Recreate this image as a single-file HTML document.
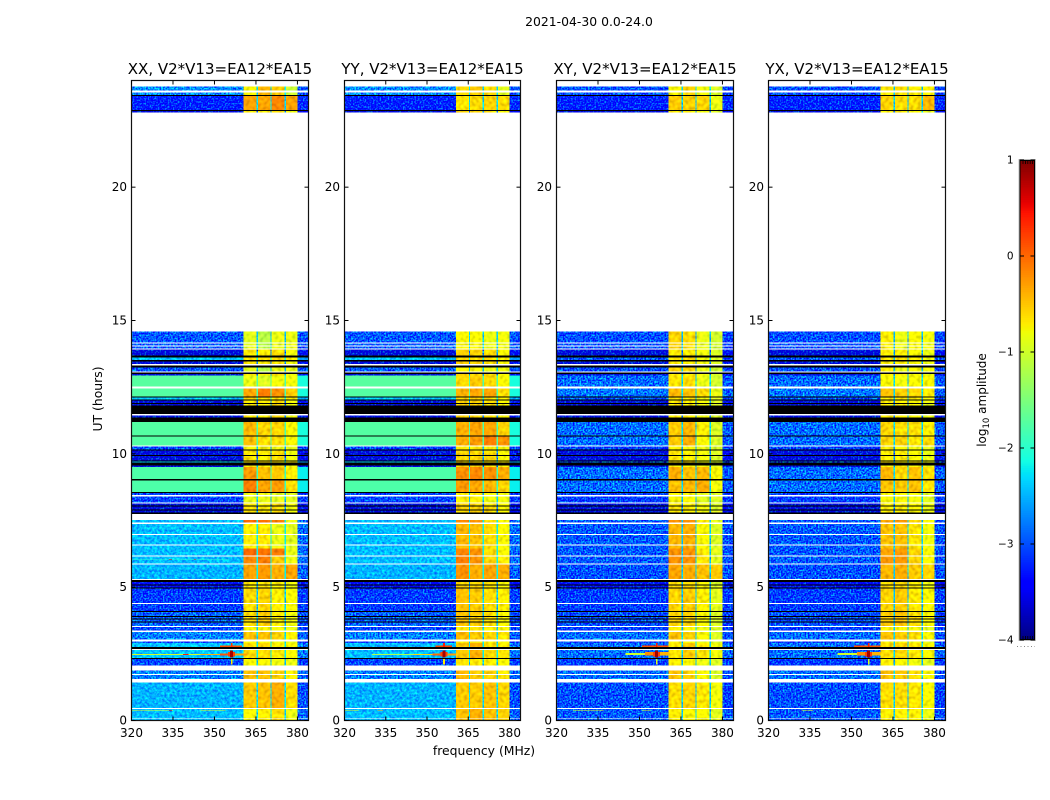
<!DOCTYPE html>
<html lang="en">
<head>
<meta charset="utf-8">
<title>2021-04-30 0.0-24.0</title>
<style>
html,body{margin:0;padding:0;background:#fff;}
svg{display:block;}
text{font-family:"DejaVu Sans","Liberation Sans",sans-serif;fill:#000;}
</style>
</head>
<body>
<svg id="chart" xmlns="http://www.w3.org/2000/svg" width="1050" height="800" viewBox="0 0 1050 800">
<defs>
<filter id="low-noise" filterUnits="userSpaceOnUse" x="0" y="0" width="1050" height="800" color-interpolation-filters="sRGB">
<feTurbulence type="fractalNoise" baseFrequency="0.6" numOctaves="1" seed="4" result="n"/>
<feColorMatrix in="n" type="matrix" values="0 0 0 0 .5 2.2 0 0 0 -.6 0 0 0 0 .5 0 0 0 0 1" result="g"/>
<feComposite in="g" in2="SourceAlpha" operator="in" result="m"/>
<feComposite in="SourceGraphic" in2="m" operator="arithmetic" k1="0" k2="1" k3="1" k4="-.5"/>
</filter>
<filter id="soft-noise" filterUnits="userSpaceOnUse" x="0" y="0" width="1050" height="800" color-interpolation-filters="sRGB">
<feTurbulence type="fractalNoise" baseFrequency="0.4" numOctaves="2" seed="7" result="n"/>
<feColorMatrix in="n" type="matrix" values="0 0 0 0 .5 1 0 0 0 0 0 0 0 0 .5 0 0 0 0 1" result="g"/>
<feComposite in="g" in2="SourceAlpha" operator="in" result="m"/>
<feComposite in="SourceGraphic" in2="m" operator="arithmetic" k1="0" k2="1" k3="1" k4="-.5"/>
</filter>
<filter id="band-noise" filterUnits="userSpaceOnUse" x="0" y="0" width="1050" height="800" color-interpolation-filters="sRGB">
<feTurbulence type="fractalNoise" baseFrequency="0.28" numOctaves="1" seed="9" result="n"/>
<feColorMatrix in="n" type="matrix" values="1 0 0 0 0 1 0 0 0 0 1 0 0 0 0 0 0 0 0 1" result="g"/>
<feComposite in="SourceGraphic" in2="g" operator="arithmetic" k1="0.6" k2="0.72" k3="0" k4="0"/>
</filter>
</defs>
<text x="589" y="26" text-anchor="middle" font-size="12.4">2021-04-30 0.0-24.0</text>
<text x="484" y="755" text-anchor="middle" font-size="12.4">frequency (MHz)</text>
<text transform="translate(102,399) rotate(-90)" text-anchor="middle" font-size="12.4">UT (hours)</text>
<text transform="translate(986,400) rotate(-90)" text-anchor="middle" font-size="12">log<tspan font-size="8.5" dy="3">10</tspan><tspan dy="-3"> amplitude</tspan></text>
</svg>
<script>
/* Data: every row is a UT interval, every column a frequency interval */
const panelTitles = ['XX, V2*V13=EA12*EA15', 'YY, V2*V13=EA12*EA15', 'XY, V2*V13=EA12*EA15', 'YX, V2*V13=EA12*EA15'];
const xTicks = [320, 335, 350, 365, 380];
const yTicks = [0, 5, 10, 15, 20];
const colorbarTicks = [1, 0, -1, -2, -3, -4];

/* Start hour of each row, and the final edge */
const rowStartHour = [0,.08,.10,.44,.46,1.43,1.55,1.71,1.75,1.88,2.06,2.30,2.34,2.64,2.69,2.75,2.90,2.97,3.03,3.31,3.38,3.51,3.55,3.68,3.71,3.79,3.83,3.88,3.92,4.07,4.11,4.36,4.40,4.95,4.99,5.06,5.10,5.20,5.27,5.31,5.85,5.89,6.15,6.19,6.45,6.56,6.60,6.96,7.00,7.37,7.43,7.52,7.74,7.80,7.88,7.91,8.03,8.06,8.14,8.18,8.40,8.46,8.53,8.57,9.00,9.06,9.51,9.56,9.68,9.71,9.75,9.92,9.96,10.125,10.16,10.275,10.31,10.65,10.69,11.19,11.36,11.44,11.49,11.81,11.87,11.91,12.0,12.04,12.11,12.15,12.45,12.525,12.94,13.0,13.05,13.09,13.24,13.31,13.37,13.46,13.52,13.61,13.69,13.91,13.95,14.03,14.06,14.14,14.18,14.59,22.8,22.86,22.9,23.42,23.46,23.55,23.63,23.78];
const lastRowEnd = 24;
/* Row condition per row: W = no data (white), K = flagged (black), others index the level tables */
const rowGroup = ['X','W','X','W','V','W','T','W','T','W','Y','K','U','W','K','U','Y','W','T','W','Y','W','S','K','S','K','S','K','S','K','Q','W','Q','K','R','K','R','K','W','P','W','O','W','N','M','W','M','W','M','W','N','W','K','D','K','D','K','D','W','Z','W','Z','K','J','K','I','D','K','L','K','D','K','D','K','Y','W','H','K','G','K','D','W','K','D','K','D','K','L','K','F','W','E','D','K','W','C','K','W','D','K','L','K','D','W','C','W','C','W','C','W','D','K','B','K','A','W','A','W'];
const groupKeys = ['A','B','C','D','E','F','G','H','I','J','L','M','N','O','P','Q','R','S','T','U','V','X','Y','Z'];

/* Frequency column edges (MHz): low, sub-band 1, gap, sub-band 2, gap, sub-band 3, gap, sub-band 4, high */
const freqEdges = [320, 360.5, 365.2, 365.7, 370.2, 370.7, 375.3, 375.8, 380, 384];
/* Which level each column reads: 0 low, 1-4 sub-bands, 5 gap, 6 high */
const columnLevel = [0, 1, 5, 2, 5, 3, 5, 4, 6];

/* log10 amplitude per group: low, b1, b2, b3, b4, gap, high */
const xxLevels = [
[-2.7,-.75,-.4,-.5,-1.05,-2.3,-3.0],[-3.25,-.3,-.3,-.15,-.3,-2.3,-3.2],[-2.95,-.9,-1.15,-.85,-.85,-2.4,-3.0],[-3.6,-.65,-.7,-.6,-.8,-2.7,-3.5],
[-1.72,-.85,-.95,-.8,-.8,-1.8,-2.1],[-1.74,-.3,-.1,-.2,-.5,-1.8,-2.1],[-1.74,-.4,-.55,-.55,-.75,-1.8,-2.1],[-1.74,-.45,-.6,-.6,-.75,-1.8,-2.1],
[-1.78,-.25,-.45,-.5,-.7,-1.9,-2.2],[-1.78,-.1,-.3,-.25,-.6,-1.9,-2.2],[-2.4,-.6,-.6,-.6,-.7,-2.1,-2.6],[-2.45,-.7,-.65,-.85,-.9,-2.2,-2.85],
[-2.45,0,-.05,-.1,-.85,-2.2,-2.85],[-2.45,-.15,-.1,-.5,-.85,-2.2,-2.85],[-2.5,-.3,-.25,-.35,-.3,-2.2,-2.9],[-3.1,-.6,-.55,-.7,-.75,-2.4,-3.1],
[-3.5,-.65,-.65,-.7,-.8,-2.6,-3.4],[-2.9,-.6,-.5,-.7,-.8,-2.4,-3.0],[-2.75,-.45,-.45,-.55,-.7,-2.3,-2.9],[-2.4,-.6,-.6,-.7,-.75,-2.2,-2.8],
[-2.5,-.5,-.45,-.35,-.6,-2.3,-3.0],[-2.45,-.75,-.7,-.6,-.85,-2.3,-2.9],[-3.05,-.75,-.75,-.8,-.85,-2.4,-3.1],[-3.05,-.85,-.85,-.9,-.9,-2.4,-3.1]];
const yyLevels = [
[-2.7,-.6,-.5,-.6,-.9,-2.3,-3.0],[-3.25,-.65,-.6,-.55,-.6,-2.3,-3.2],[-2.95,-.75,-.75,-.85,-.8,-2.4,-3.0],[-3.6,-.55,-.55,-.6,-.75,-2.7,-3.5],
[-1.72,-.6,-.5,-.6,-.75,-1.8,-2.1],[-1.74,-.4,-.3,-.3,-.6,-1.8,-2.1],[-1.74,-.35,-.3,-.3,-.55,-1.8,-2.1],[-1.74,-.35,-.25,-.1,-.2,-1.8,-2.1],
[-1.78,-.2,-.15,-.2,-.35,-1.9,-2.2],[-1.78,-.25,-.3,-.4,-.55,-1.9,-2.2],[-2.4,-.55,-.55,-.6,-.7,-2.1,-2.6],[-2.45,-.4,-.45,-.6,-.75,-2.2,-2.85],
[-2.45,-.15,-.2,-.6,-.75,-2.2,-2.85],[-2.45,-.1,-.2,-.55,-.7,-2.2,-2.85],[-2.5,-.2,-.35,-.3,-.35,-2.2,-2.9],[-3.1,-.45,-.5,-.6,-.7,-2.4,-3.1],
[-3.5,-.55,-.55,-.65,-.75,-2.6,-3.4],[-2.9,-.45,-.5,-.6,-.75,-2.4,-3.0],[-2.75,-.4,-.5,-.55,-.65,-2.3,-2.9],[-2.45,-.5,-.35,-.6,-.65,-2.2,-2.8],
[-2.5,-.5,-.5,-.45,-.55,-2.3,-3.0],[-2.45,-.45,-.35,-.45,-.55,-2.3,-2.9],[-3.05,-.65,-.65,-.7,-.75,-2.4,-3.1],[-3.05,-.7,-.7,-.8,-.8,-2.4,-3.1]];
const xyLevels = [
[-3.0,-.75,-.55,-.8,-.95,-2.4,-3.1],[-3.25,-.5,-.55,-.55,-.85,-2.4,-3.2],[-3.0,-.55,-.6,-.85,-1.0,-2.5,-3.1],[-3.6,-.65,-.7,-.8,-.95,-2.7,-3.5],
[-2.85,-.65,-.6,-.85,-1.0,-2.3,-2.95],[-2.8,-.4,-.45,-.6,-.85,-2.3,-2.95],[-2.85,-.5,-.4,-.7,-.95,-2.3,-2.95],[-2.85,-.5,-.35,-.75,-.95,-2.3,-2.95],
[-2.85,-.35,-.45,-.4,-.75,-2.3,-2.95],[-2.85,-.45,-.4,-.35,-.8,-2.3,-2.95],[-2.95,-.65,-.6,-.8,-.95,-2.4,-3.0],[-2.95,-.4,-.35,-.75,-.95,-2.4,-3.0],
[-2.95,-.2,-.2,-.65,-.9,-2.4,-3.0],[-2.95,-.2,-.2,-.65,-.9,-2.4,-3.0],[-3.0,-.3,-.35,-.45,-.5,-2.4,-3.0],[-3.1,-.55,-.5,-.7,-.9,-2.5,-3.1],
[-3.5,-.6,-.6,-.75,-.95,-2.6,-3.4],[-3.0,-.55,-.55,-.75,-.95,-2.5,-3.1],[-2.85,-.45,-.55,-.75,-.95,-2.3,-3.0],[-2.85,-.65,-.5,-.65,-.8,-2.3,-2.9],
[-3.0,-.6,-.55,-.65,-.8,-2.4,-3.1],[-2.95,-.7,-.75,-.75,-.9,-2.4,-3.0],[-3.1,-.7,-.75,-.85,-.95,-2.5,-3.1],[-3.1,-.75,-.75,-.9,-.95,-2.5,-3.1]];
const yxLevels = [
[-3.0,-.65,-.6,-.7,-.7,-2.4,-3.1],[-3.25,-.55,-.6,-.6,-.4,-2.4,-3.2],[-3.0,-.7,-.85,-.75,-.8,-2.5,-3.1],[-3.6,-.7,-.7,-.75,-.85,-2.7,-3.5],
[-2.85,-.75,-.8,-.75,-.75,-2.3,-2.95],[-2.8,-.45,-.5,-.55,-.7,-2.3,-2.95],[-2.85,-.55,-.6,-.6,-.7,-2.3,-2.95],[-2.85,-.55,-.55,-.65,-.6,-2.3,-2.95],
[-2.85,-.4,-.55,-.45,-.6,-2.3,-2.95],[-2.85,-.45,-.5,-.45,-.65,-2.3,-2.95],[-2.95,-.65,-.65,-.7,-.8,-2.4,-3.0],[-2.95,-.45,-.45,-.65,-.8,-2.4,-3.0],
[-2.95,-.3,-.25,-.55,-.75,-2.4,-3.0],[-2.95,-.25,-.25,-.55,-.75,-2.4,-3.0],[-3.0,-.4,-.35,-.5,-.55,-2.4,-3.0],[-3.1,-.55,-.5,-.65,-.75,-2.5,-3.1],
[-3.5,-.6,-.6,-.7,-.85,-2.6,-3.4],[-3.0,-.5,-.45,-.6,-.75,-2.5,-3.1],[-2.85,-.45,-.5,-.6,-.75,-2.3,-3.0],[-2.85,-.6,-.55,-.65,-.75,-2.3,-2.9],
[-3.0,-.6,-.6,-.65,-.75,-2.4,-3.1],[-2.95,-.7,-.7,-.7,-.85,-2.4,-3.0],[-3.1,-.7,-.75,-.8,-.9,-2.5,-3.1],[-3.1,-.75,-.75,-.8,-.9,-2.5,-3.1]];
const allLevels = [xxLevels, yyLevels, xyLevels, yxLevels];

/* Bright interference: start hour, end hour, start MHz, end MHz, log10 amplitude */
const xxRfi = [[.37,.40,320,335,-.9],[.37,.40,345,354,-.9],[.37,.40,333.6,334.6,.5],[6.01,6.04,320,355,-2.0],[6.01,6.04,333.6,334.6,.5],[6.01,6.04,342.6,343.4,.4],[2.46,2.50,320,345,-.95],[2.46,2.50,345,352,-.4],[2.44,2.52,352,355.7,.1],[2.44,2.52,356.7,362,-.3],[2.46,2.50,338.6,340.6,.4],[2.36,2.62,355.7,356.7,.85],[2.40,2.56,354.9,355.7,.2],[2.40,2.56,356.7,357.5,.2],[2.10,2.30,355.9,356.5,-.7],[2.76,2.81,352,360,.15],[2.75,2.90,355.9,356.5,.3]];
const yyRfi = [[.37,.40,320,325,-.9],[.37,.40,332,334,-.3],[2.46,2.50,330,345,-1.2],[2.46,2.50,345,352,-.6],[2.44,2.52,352,355.7,0],[2.44,2.52,356.7,360.5,-.3],[2.36,2.62,355.7,356.7,.85],[2.40,2.56,354.9,355.7,.2],[2.40,2.56,356.7,357.5,.2],[2.10,2.30,355.9,356.5,-.7],[2.76,2.81,353,359,.2],[2.75,2.90,355.9,356.5,.4]];
const xyRfi = [[.37,.40,326,337,-.9],[.37,.40,351,354,-.9],[2.46,2.54,345,352,-1.0],[2.44,2.56,352,355.7,-.2],[2.44,2.56,356.7,360.5,-.4],[2.36,2.62,355.7,356.7,.85],[2.40,2.56,354.9,355.7,.2],[2.40,2.56,356.7,357.5,.2],[2.10,2.30,355.9,356.5,-.9],[2.76,2.81,351,360.5,.1],[2.75,2.90,355.9,356.5,.4]];
const yxRfi = [[.37,.40,332,336,-.9],[2.46,2.54,345,352,-1.0],[2.44,2.56,352,355.7,-.2],[2.44,2.56,356.7,360.5,-.4],[2.36,2.62,355.7,356.7,.85],[2.40,2.56,354.9,355.7,.2],[2.40,2.56,356.7,357.5,.2],[2.10,2.30,355.9,356.5,-.9],[2.76,2.81,351,360.5,.1],[2.75,2.90,355.9,356.5,.4]];
const allRfi = [xxRfi, yyRfi, xyRfi, yxRfi];

/* Layout */
const NS = 'http://www.w3.org/2000/svg';
const svg = document.getElementById('chart');
const panelLeft = [131.5, 344.5, 556.5, 768.5];
const panelWidth = [177, 176, 177, 177];
const panelNames = ['xx', 'yy', 'xy', 'yx'];
const plotTop = 80.5, plotBottom = 720.5;
const freqMin = 320, freqMax = 384, hourMin = 0, hourMax = 24;
const cbLeft = 1019.5, cbRight = 1035, cbTop = 160, cbBottom = 640, cbMin = -4, cbMax = 1;

function xScale(panel, f) { return panelLeft[panel] + (f - freqMin) / (freqMax - freqMin) * panelWidth[panel]; }
function yScale(h) { return plotBottom - (h - hourMin) / (hourMax - hourMin) * (plotBottom - plotTop); }
function cbScale(v) { return cbBottom - (v - cbMin) / (cbMax - cbMin) * (cbBottom - cbTop); }
function ramp(x, x0, y0, x1, y1) { return y0 + (y1 - y0) * (x - x0) / (x1 - x0); }
function jet(v) {
  const t = Math.max(0, Math.min(1, (v - cbMin) / (cbMax - cbMin)));
  const r = t < .35 ? 0 : t < .66 ? ramp(t, .35, 0, .66, 1) : t < .89 ? 1 : ramp(t, .89, 1, 1, .5);
  const g = t < .125 ? 0 : t < .375 ? ramp(t, .125, 0, .375, 1) : t < .64 ? 1 : t < .91 ? ramp(t, .64, 1, .91, 0) : 0;
  const b = t < .11 ? ramp(t, 0, .5, .11, 1) : t < .34 ? 1 : t < .65 ? ramp(t, .34, 1, .65, 0) : 0;
  return 'rgb(' + Math.round(r * 255) + ',' + Math.round(g * 255) + ',' + Math.round(b * 255) + ')';
}
function make(parent, tag, attrs) {
  const el = document.createElementNS(NS, tag);
  for (const k in attrs) el.setAttribute(k, attrs[k]);
  parent.appendChild(el);
  return el;
}
function hourEdge(i) { return i + 1 < rowStartHour.length ? rowStartHour[i + 1] : lastRowEnd; }

allLevels.forEach(function (levels, p) {
  const name = panelNames[p];
  const plotWidth = panelWidth[p];
  const panel = make(svg, 'g', {});
  
  

  const smooth = make(panel, 'g', { 'shape-rendering': 'crispEdges' });
  
  
  const soft = make(panel, 'g', { 'shape-rendering': 'crispEdges', filter: 'url(#soft-noise)' });
  
  
  const noisy = make(panel, 'g', { 'shape-rendering': 'crispEdges', filter: 'url(#low-noise)' });
  
  
  const banded = make(panel, 'g', { 'shape-rendering': 'crispEdges', filter: 'url(#band-noise)' });
  
  
  const flagged = make(panel, 'g', { 'shape-rendering': 'crispEdges' });
  
  
  const rfi = make(panel, 'g', { 'shape-rendering': 'crispEdges' });
  
  

  rowGroup.forEach(function (key, r) {
    if (key === 'W') return;
    const y0 = yScale(hourEdge(r)), y1 = yScale(rowStartHour[r]);
    if (key === 'K') {
      const bar = make(flagged, 'rect', { x: xScale(p, freqMin), y: y0, width: plotWidth, height: y1 - y0, fill: '#000' });
      
      
      return;
    }
    const row = levels[groupKeys.indexOf(key)];
    columnLevel.forEach(function (lv, c) {
      const value = row[lv];
      const x0 = xScale(p, freqEdges[c]), x1 = xScale(p, freqEdges[c + 1]);
      const target = (lv >= 1 && lv <= 4) ? banded : (value < -2.6 ? noisy : (value < -2.2 ? soft : smooth));
      const cell = make(target, 'rect', { x: x0, y: y0, width: x1 - x0, height: y1 - y0, fill: jet(value) });
      
      
    });
  });

  allRfi[p].forEach(function (e) {
    const y0 = yScale(e[1]), y1 = yScale(e[0]);
    const x0 = xScale(p, e[2]), x1 = xScale(p, e[3]);
    const cell = make(rfi, 'rect', { x: x0, y: y0, width: x1 - x0, height: y1 - y0, fill: jet(e[4]) });
    
    
  });

  const left = panelLeft[p], right = left + plotWidth;
  const frame = make(panel, 'rect', { x: left, y: plotTop, width: plotWidth, height: plotBottom - plotTop, fill: 'none', stroke: '#111', 'stroke-width': 1.2 });
  
  

  const title = make(panel, 'text', { x: left + plotWidth / 2, y: 74, 'text-anchor': 'middle', 'font-size': 15 });
  title.textContent = panelTitles[p];
  
  

  xTicks.forEach(function (f) {
    const x = xScale(p, f);
    [[plotBottom, plotBottom - 4], [plotTop, plotTop + 4]].forEach(function (s) {
      const tick = make(panel, 'line', { x1: x, x2: x, y1: s[0], y2: s[1], stroke: '#000', 'stroke-width': 1 });
      
      
    });
    const label = make(panel, 'text', { x: x, y: 737, 'text-anchor': 'middle', 'font-size': 12 });
    label.textContent = f;
    
    
  });

  yTicks.forEach(function (h) {
    const y = yScale(h);
    [[left, left + 4], [right, right - 4]].forEach(function (s) {
      const tick = make(panel, 'line', { x1: s[0], x2: s[1], y1: y, y2: y, stroke: '#000', 'stroke-width': 1 });
      
      
    });
    const label = make(panel, 'text', { x: left - 4.5, y: y + 4, 'text-anchor': 'end', 'font-size': 12 });
    label.textContent = h;
    
    
  });
});

/* Colorbar */
const cb = make(svg, 'g', {});


const cbRamp = make(cb, 'g', { 'shape-rendering': 'crispEdges' });


const cbLevels = 256;
for (let i = 0; i < cbLevels; i++) {
  const v0 = cbMin + (cbMax - cbMin) * i / cbLevels;
  const v1 = cbMin + (cbMax - cbMin) * (i + 1) / cbLevels;
  const swatch = make(cbRamp, 'rect', { x: cbLeft, y: cbScale(v1), width: cbRight - cbLeft, height: cbScale(v0) - cbScale(v1) + .5, fill: jet((v0 + v1) / 2) });
  
  
}
const cbOuter = make(cb, 'rect', { x: cbLeft - .5, y: cbTop - .5, width: cbRight - cbLeft + 1, height: cbBottom - cbTop + 1, fill: 'none', stroke: '#bdbdbd', 'stroke-width': 1 });


const cbInner = make(cb, 'rect', { x: cbLeft + .5, y: cbTop + .5, width: cbRight - cbLeft - 1, height: cbBottom - cbTop - 1, fill: 'none', stroke: '#000', 'stroke-width': 1 });


colorbarTicks.forEach(function (v) {
  const y = cbScale(v);
  [[cbLeft, cbLeft + 4.5], [cbRight, cbRight - 4.5]].forEach(function (s) {
    const tick = make(cb, 'line', { x1: s[0], x2: s[1], y1: y, y2: y, stroke: '#000', 'stroke-width': 1 });
    
    
  });
  const label = make(cb, 'text', { x: 1013.5, y: y + 3.5, 'text-anchor': 'end', 'font-size': 10.5 });
  label.textContent = v < 0 ? '\u2212' + Math.abs(v) : String(v);
  
  
});
[cbTop, cbBottom].forEach(function (y0) {
  for (let i = 0; i < 5; i++) {
    const x = 1023 + i * 2.4;
    const dir = y0 === cbTop ? 1 : -1;
    const minor = make(cb, 'line', { x1: x, x2: x, y1: y0, y2: y0 + dir * 4, stroke: '#000', 'stroke-width': .8 });
    
    
  }
});
const cbDots = make(cb, 'line', { x1: 1017, x2: 1035, y1: 646.5, y2: 646.5, stroke: '#888', 'stroke-width': 1, 'stroke-dasharray': '1 2.5' });


</script>
</body>
</html>
